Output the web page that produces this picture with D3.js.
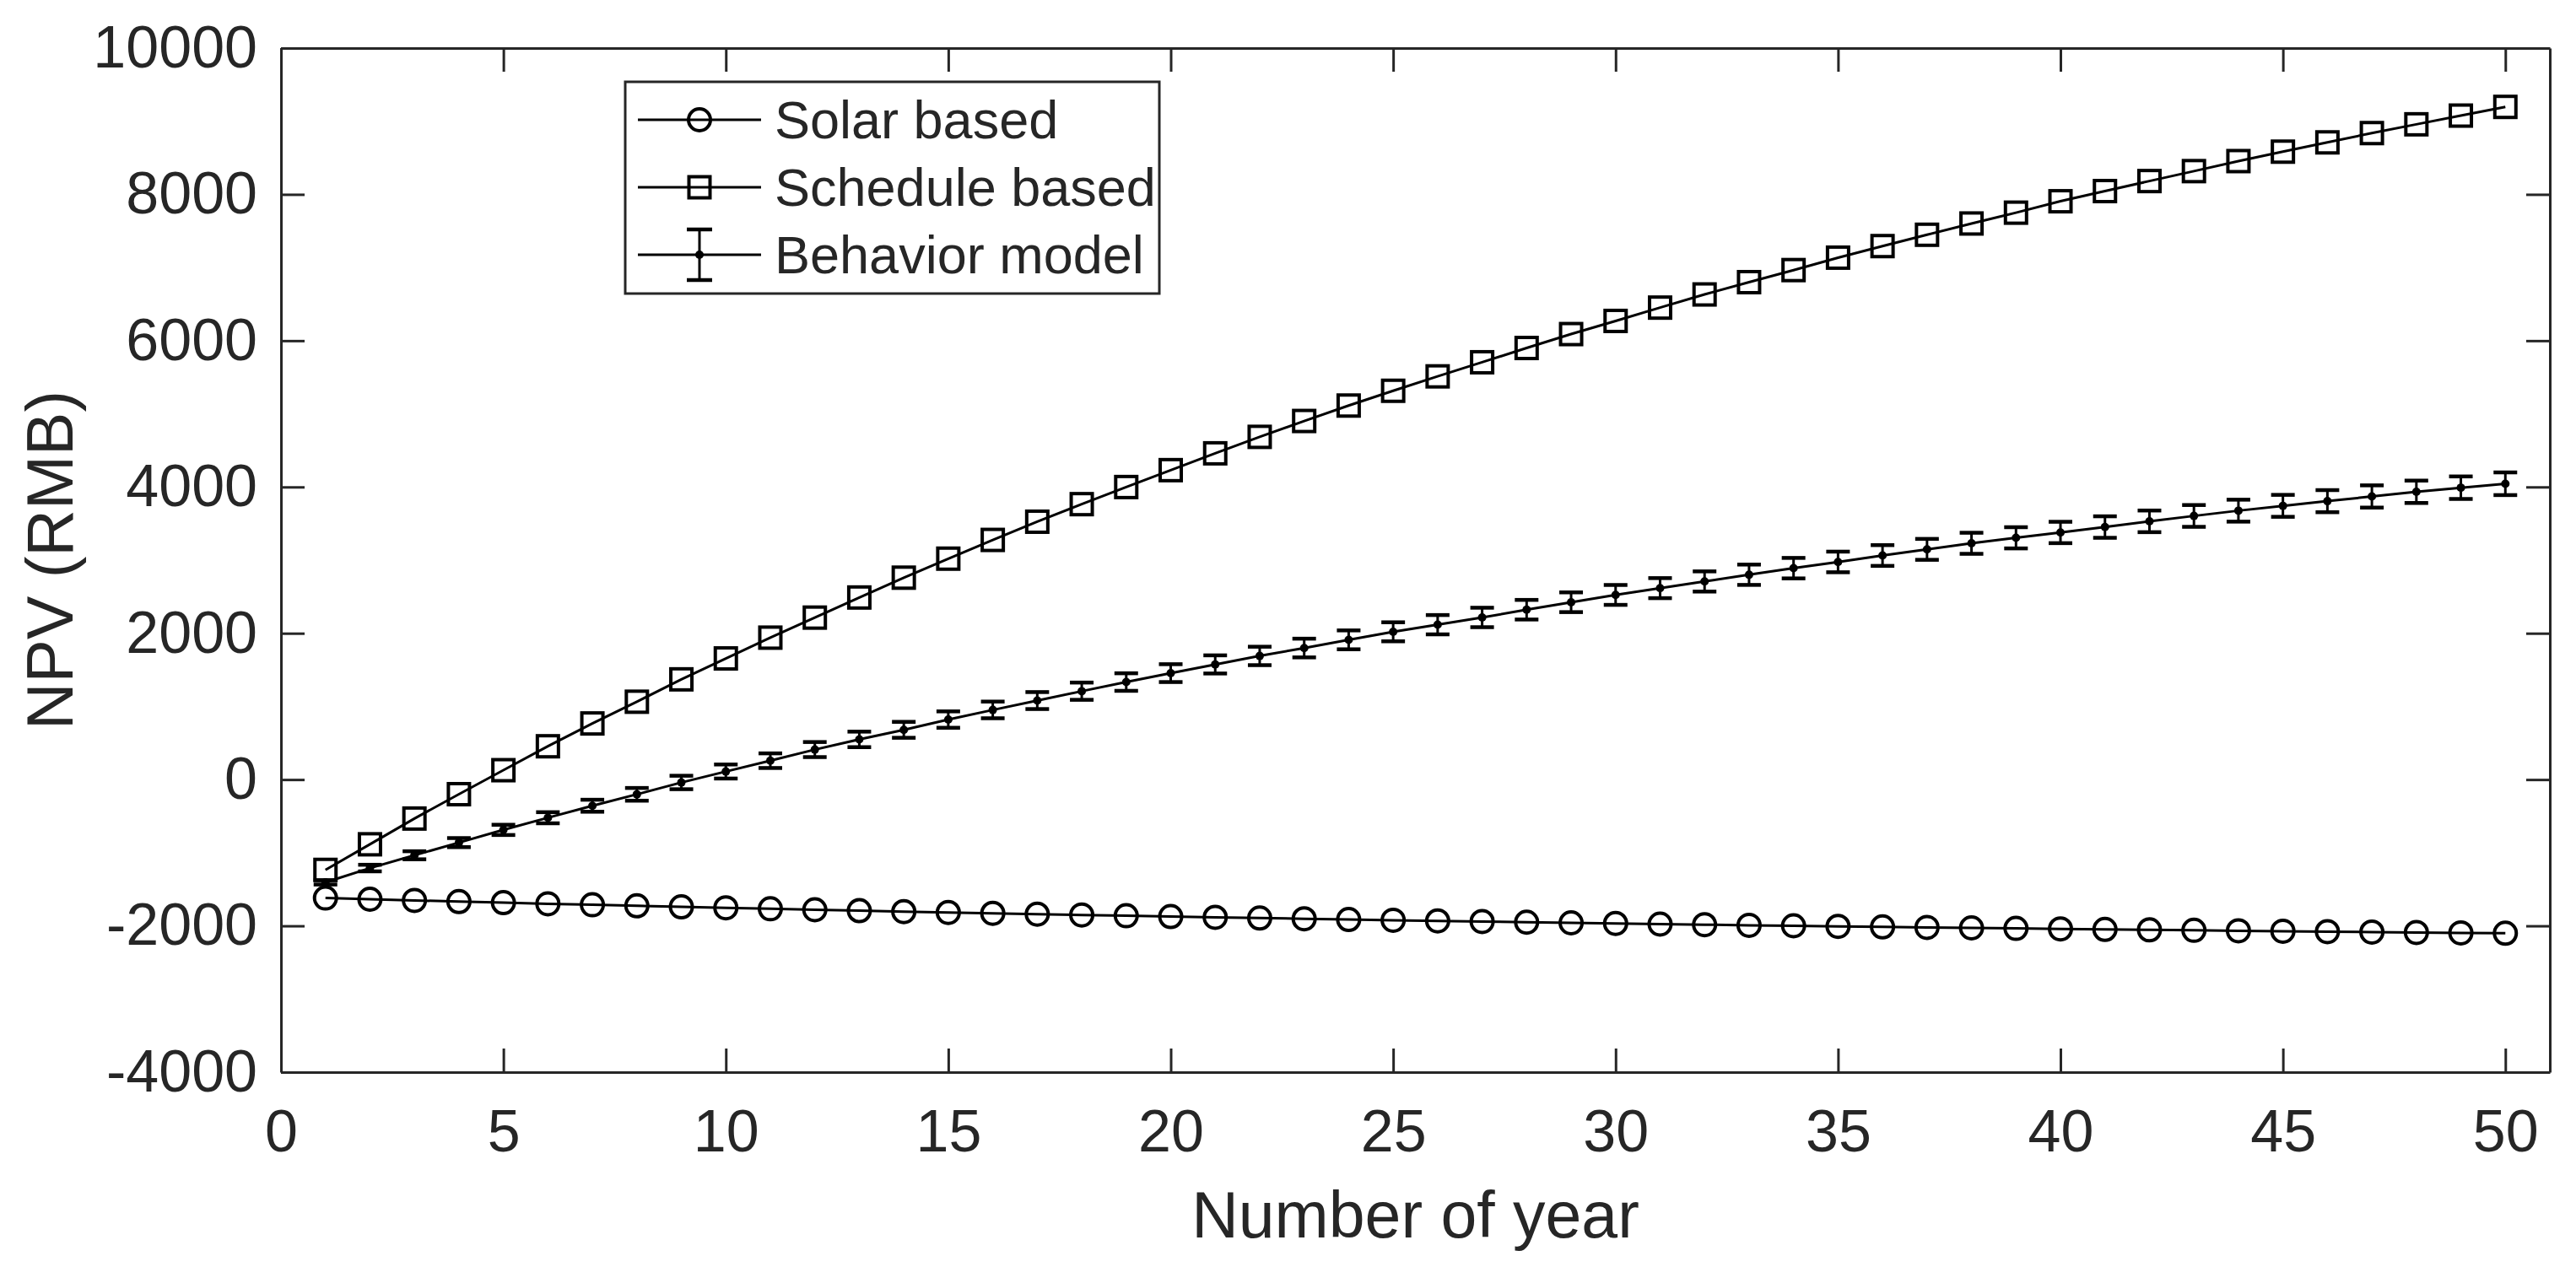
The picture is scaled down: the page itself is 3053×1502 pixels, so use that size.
<!DOCTYPE html>
<html>
<head>
<meta charset="utf-8">
<script src="https://cdn.jsdelivr.net/npm/d3@7"></script>
<style>
  body { margin: 0; background: #fff; }
  text { font-family: "Liberation Sans", Arial, Helvetica, sans-serif; fill: #262626; }
</style>
</head>
<body>
<script>
// datos
var anios = [1,2,3,4,5,6,7,8,9,10,11,12,13,14,15,16,17,18,19,20,21,22,23,24,25,
             26,27,28,29,30,31,32,33,34,35,36,37,38,39,40,41,42,43,44,45,46,47,48,49,50];

var solar = [-1620,-1636,-1652,-1668,-1683,-1698,-1712,-1726,-1740,-1753,
             -1767,-1780,-1792,-1805,-1817,-1828,-1840,-1851,-1862,-1873,
             -1883,-1893,-1903,-1913,-1923,-1932,-1941,-1950,-1959,-1967,
             -1976,-1984,-1992,-1999,-2007,-2014,-2021,-2028,-2035,-2042,
             -2049,-2055,-2061,-2067,-2073,-2079,-2085,-2091,-2096,-2101];

var horario = [-1235,-885,-533,-200,128,455,767,1064,1370,1656,
               1940,2214,2489,2760,3020,3276,3525,3765,3999,4230,
               4460,4685,4902,5113,5315,5512,5705,5900,6090,6270,
               6452,6632,6800,6965,7135,7293,7448,7602,7750,7906,
               8045,8182,8318,8455,8584,8711,8838,8958,9077,9196];

var comportamiento = [-1405,-1210,-1035,-862,-688,-522,-358,-202,-40,110,
                      258,410,549,680,820,952,1080,1208,1333,1455,
                      1574,1690,1798,1910,2020,2117,2216,2322,2424,2524,
                      2617,2708,2800,2890,2975,3063,3147,3230,3305,3378,
                      3452,3530,3604,3676,3742,3806,3870,3934,3990,4044];

var errores = [30,45,55,62,70,76,82,87,92,96,
               100,103,106,109,112,114,116,118,120,122,
               124,126,128,129,130,132,133,134,135,136,
               137,138,139,140,141,142,143,144,145,146,
               147,148,149,150,150,151,152,153,154,155];

var ticksX = [0,5,10,15,20,25,30,35,40,45,50];
var ticksY = [-4000,-2000,0,2000,4000,6000,8000,10000];
var leyenda = ["Solar based", "Schedule based", "Behavior model"];

var ancho = 3053, altura = 1502;
var izq = 333, der = 3022, sup = 57, inf = 1271;
var gris = "#262626";
var radio = 13, lado = 25;

var svg = d3.select("body").append("svg")
    .attr("width", ancho)
    .attr("height", altura);

svg.append("rect").attr("width", ancho).attr("height", altura).attr("fill", "#fff");

var escalaX = d3.scaleLinear().domain([0, 51]).range([izq, der]);
var escalaY = d3.scaleLinear().domain([-4000, 10000]).range([inf, sup]);

var formato = function (d) { return String(d); };

function estiloEje(g, conTexto) {
    g.style("color", gris)
     .attr("font-family", '"Liberation Sans", Arial, Helvetica, sans-serif')
     .attr("font-size", 70);
    g.selectAll("path, line").attr("stroke-width", 3);
    if (!conTexto) g.selectAll("text").remove();
}

// ejes (caja con marcas hacia dentro)
svg.append("g")
    .attr("transform", "translate(0," + inf + ")")
    .call(d3.axisBottom(escalaX).tickValues(ticksX).tickFormat(formato)
        .tickSize(-28).tickSizeOuter(0).tickPadding(44))
    .call(estiloEje, true);

svg.append("g")
    .attr("transform", "translate(0," + sup + ")")
    .call(d3.axisTop(escalaX).tickValues(ticksX).tickSize(-28).tickSizeOuter(0))
    .call(estiloEje, false);

svg.append("g")
    .attr("transform", "translate(" + izq + ",0)")
    .call(d3.axisLeft(escalaY).tickValues(ticksY).tickFormat(formato)
        .tickSize(-28).tickSizeOuter(0).tickPadding(28))
    .call(estiloEje, true);

svg.append("g")
    .attr("transform", "translate(" + der + ",0)")
    .call(d3.axisRight(escalaY).tickValues(ticksY).tickSize(-28).tickSizeOuter(0))
    .call(estiloEje, false);

var datosSolar = anios.map(function (a, i) { return { x: a, v: solar[i] }; });
var datosHorario = anios.map(function (a, i) { return { x: a, v: horario[i] }; });
var datosComp = anios.map(function (a, i) { return { x: a, v: comportamiento[i], e: errores[i] }; });

var linea = d3.line()
    .x(function (d) { return escalaX(d.x); })
    .y(function (d) { return escalaY(d.v); });

var datos = svg.append("g");

// Solar based
datos.append("path").datum(datosSolar)
    .attr("d", linea).attr("fill", "none").attr("stroke", "#000").attr("stroke-width", 3);
datos.selectAll(".circulo").data(datosSolar).enter().append("circle")
    .attr("cx", function (d) { return escalaX(d.x); })
    .attr("cy", function (d) { return escalaY(d.v); })
    .attr("r", radio)
    .attr("fill", "none").attr("stroke", "#000").attr("stroke-width", 4);

// Schedule based
datos.append("path").datum(datosHorario)
    .attr("d", linea).attr("fill", "none").attr("stroke", "#000").attr("stroke-width", 3);
datos.selectAll(".cuadro").data(datosHorario).enter().append("rect")
    .attr("x", function (d) { return escalaX(d.x) - lado / 2; })
    .attr("y", function (d) { return escalaY(d.v) - lado / 2; })
    .attr("width", lado).attr("height", lado)
    .attr("fill", "none").attr("stroke", "#000").attr("stroke-width", 4);

// Behavior model con barras de error
var barras = datos.selectAll(".barra").data(datosComp).enter().append("g");
barras.append("line")
    .attr("x1", function (d) { return escalaX(d.x); })
    .attr("x2", function (d) { return escalaX(d.x); })
    .attr("y1", function (d) { return escalaY(d.v - d.e); })
    .attr("y2", function (d) { return escalaY(d.v + d.e); })
    .attr("stroke", "#000").attr("stroke-width", 3);
[-1, 1].forEach(function (s) {
    barras.append("line")
        .attr("x1", function (d) { return escalaX(d.x) - 14; })
        .attr("x2", function (d) { return escalaX(d.x) + 14; })
        .attr("y1", function (d) { return escalaY(d.v + s * d.e); })
        .attr("y2", function (d) { return escalaY(d.v + s * d.e); })
        .attr("stroke", "#000").attr("stroke-width", 4.5);
});
datos.append("path").datum(datosComp)
    .attr("d", linea).attr("fill", "none").attr("stroke", "#000").attr("stroke-width", 3);
datos.selectAll(".punto").data(datosComp).enter().append("circle")
    .attr("cx", function (d) { return escalaX(d.x); })
    .attr("cy", function (d) { return escalaY(d.v); })
    .attr("r", 5).attr("fill", "#000");

// Leyenda
var ley = svg.append("g");
ley.append("rect")
    .attr("x", 741).attr("y", 97).attr("width", 633).attr("height", 251)
    .attr("fill", "#fff").attr("stroke", gris).attr("stroke-width", 3);

leyenda.forEach(function (nombre, i) {
    var yy = 142 + i * 80;
    var cx = 829;
    ley.append("line").attr("x1", 756).attr("x2", 902).attr("y1", yy).attr("y2", yy)
        .attr("stroke", "#000").attr("stroke-width", 3);
    if (i === 0) {
        ley.append("circle").attr("cx", cx).attr("cy", yy).attr("r", radio)
            .attr("fill", "none").attr("stroke", "#000").attr("stroke-width", 4);
    } else if (i === 1) {
        ley.append("rect").attr("x", cx - lado / 2).attr("y", yy - lado / 2)
            .attr("width", lado).attr("height", lado)
            .attr("fill", "none").attr("stroke", "#000").attr("stroke-width", 4);
    } else {
        ley.append("line").attr("x1", cx).attr("x2", cx).attr("y1", yy - 30).attr("y2", yy + 30)
            .attr("stroke", "#000").attr("stroke-width", 3);
        [-30, 30].forEach(function (dy) {
            ley.append("line").attr("x1", cx - 15).attr("x2", cx + 15).attr("y1", yy + dy).attr("y2", yy + dy)
                .attr("stroke", "#000").attr("stroke-width", 4.5);
        });
        ley.append("circle").attr("cx", cx).attr("cy", yy).attr("r", 5).attr("fill", "#000");
    }
    ley.append("text")
        .attr("x", 918).attr("y", yy + 22)
        .style("font-size", "63px")
        .text(nombre);
});

// Titulos de ejes
svg.append("text")
    .attr("x", (izq + der) / 2)
    .attr("y", 1467)
    .attr("text-anchor", "middle")
    .style("font-size", "77px")
    .text("Number of year");

svg.append("text")
    .attr("transform", "translate(86," + (sup + inf) / 2 + ") rotate(-90)")
    .attr("text-anchor", "middle")
    .style("font-size", "77px")
    .text("NPV (RMB)");
</script>
</body>
</html>
